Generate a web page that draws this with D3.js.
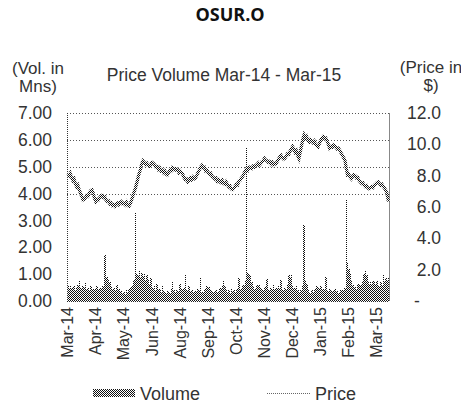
<!DOCTYPE html>
<html>
<head>
<meta charset="utf-8">
<script src="https://cdn.jsdelivr.net/npm/d3@7"></script>
<style>
  body { margin: 0; background: #fff; }
  text { font-family: Arial, "Liberation Sans", sans-serif; fill: #333; }
</style>
</head>
<body>
<script>
// daily closing price ($), Mar-14 .. Mar-15
const price = [
  8.1, 8.0, 8.15, 7.9, 7.7, 7.8, 7.5, 7.3, 7.4, 7.1, 6.9, 6.7, 6.45,
  6.5, 6.6, 6.75, 6.7, 6.9, 7.05, 7.1, 6.9, 6.55, 6.35,
  6.5, 6.45, 6.6, 6.7, 6.75, 6.6, 6.65, 6.45, 6.35,
  6.4, 6.2, 6.25, 6.1, 6.15, 6.05, 6.2, 6.25, 6.15, 6.3, 6.35, 6.2,
  6.25, 6.15, 6.3, 6.1, 6.05, 6.2, 6.45, 6.7, 6.95,
  7.2, 7.5, 7.85, 8.15, 8.4, 8.75, 8.95,
  8.85, 8.7, 8.8, 8.65, 8.6, 8.7, 8.85, 8.8, 8.7,
  8.55, 8.6, 8.4, 8.5, 8.3, 8.35, 8.2, 8.3, 8.1, 8.05,
  8.2, 8.35, 8.3, 8.5, 8.4, 8.45, 8.35, 8.4, 8.2, 8.3, 8.2, 8.1,
  7.9, 7.75, 7.8, 7.6, 7.7, 7.85, 7.75, 7.9, 7.8, 7.85,
  8.0, 8.2, 8.35, 8.55, 8.65, 8.5, 8.55, 8.3, 8.35,
  8.2, 8.1, 8.15, 7.95, 7.9, 7.8, 7.85, 7.65, 7.75, 7.6, 7.55,
  7.7, 7.5, 7.45, 7.6, 7.45, 7.3, 7.35, 7.15, 7.1, 7.2,
  7.3, 7.45, 7.4, 7.65, 7.7, 7.85, 7.95, 8.15, 8.3, 8.45,
  8.35, 8.55, 8.5, 8.45, 8.6, 8.55, 8.65, 8.7, 8.8,
  8.65, 8.75, 8.9, 8.95, 9.1, 9.0, 8.95, 8.85, 8.9,
  8.75, 8.85, 8.7, 8.8, 8.75, 8.9, 9.05, 9.2, 9.3, 9.15, 9.05, 9.1,
  9.25, 9.4, 9.35, 9.55, 9.7, 9.85, 9.7, 9.5, 9.6, 9.3, 9.1,
  9.5, 9.9, 10.3, 10.6, 10.4, 10.5, 10.25, 10.15, 10.3, 10.2, 10.1, 10.2,
  10.0, 9.95, 9.85, 10.05, 10.25, 10.4, 10.5, 10.35, 10.4, 10.25, 10.0, 9.75,
  9.85, 9.8, 9.95, 9.9, 9.8, 9.7, 9.75, 9.6, 9.45, 9.3, 9.15, 9.0, 8.5, 8.05,
  8.1, 7.9, 7.8, 7.95, 8.05, 8.0, 7.85, 7.9, 7.7, 7.6, 7.5,
  7.55, 7.4, 7.3, 7.35, 7.2, 7.15, 7.25, 7.3, 7.25,
  7.4, 7.45, 7.55, 7.6, 7.5, 7.4, 7.45, 7.3, 7.2, 7.05, 6.85, 6.35
];

// daily volume (mns)
const volume = [
  0.55, 0.5, 0.6, 0.45, 0.5, 0.55, 0.4, 0.5, 0.6, 0.75,
  0.5, 0.45, 0.55, 0.5, 0.72, 0.45, 0.5, 0.4, 0.55, 0.45,
  0.5, 0.4, 0.45, 0.55, 0.4, 0.5, 0.45, 0.6, 0.55, 1.71,
  0.85, 0.9, 0.8, 0.7, 0.55, 0.45, 0.5, 0.4, 0.55, 0.6,
  0.45, 0.35, 0.4, 0.3, 0.35, 0.25, 0.4, 0.35, 0.45, 0.5,
  0.55, 0.6, 0.8, 3.28, 1.0, 0.95, 1.1, 0.85, 1.05, 0.9,
  1.0, 0.75, 0.95, 0.8, 0.6, 0.85, 0.5, 0.45, 0.55, 0.4,
  0.65, 0.4, 0.45, 0.35, 0.6, 0.4, 0.35, 0.3, 0.4, 0.35,
  0.3, 0.45, 0.7, 0.4, 0.35, 0.45, 0.4, 0.35, 0.65, 0.45,
  0.4, 0.5, 1.0, 0.45, 0.4, 0.55, 0.35, 0.4, 0.3, 0.35,
  0.4, 0.35, 0.45, 0.4, 0.85, 0.35, 0.3, 0.4, 0.45, 0.55,
  0.5, 0.55, 0.4, 0.35, 0.3, 0.35, 0.4, 0.3, 0.35, 0.45,
  0.5, 0.6, 0.8, 0.55, 0.4, 0.35, 0.4, 0.3, 0.45, 0.35,
  0.4, 0.35, 0.45, 0.5, 0.85, 0.4, 0.5, 0.55, 0.6, 0.75,
  5.74, 1.05, 1.0, 0.95, 0.7, 0.55, 0.45, 0.5, 0.6, 0.55,
  0.6, 0.5, 0.45, 0.4, 0.5, 0.55, 0.82, 0.45, 0.4, 0.5,
  0.45, 0.65, 0.4, 0.5, 0.45, 0.55, 0.5, 0.78, 0.45, 0.4,
  0.5, 0.45, 0.6, 0.95, 0.9, 0.95, 0.55, 0.5, 0.45, 0.55,
  0.4, 0.35, 0.45, 0.4, 0.6, 2.83, 0.8, 0.65, 0.45, 0.35,
  0.3, 0.4, 0.35, 0.4, 0.45, 0.55, 0.5, 0.45, 0.55, 0.4,
  0.5, 0.45, 0.9, 0.4, 0.35, 0.45, 0.4, 0.35, 0.4, 0.45,
  0.35, 0.4, 0.3, 0.35, 0.4, 0.45, 0.4, 0.5, 3.79, 1.4,
  1.2, 1.05, 0.8, 0.6, 0.5, 0.55, 0.45, 0.6, 0.65, 0.55,
  0.6, 0.7, 1.0, 1.1, 0.95, 0.7, 0.65, 0.7, 0.6, 0.75,
  0.7, 0.65, 0.75, 0.6, 0.55, 0.7, 0.6, 0.95, 0.75, 0.85,
  0.8, 0.9
];

// category labels shown every 22 trading days
const tickLabels = ['Mar-14', 'Apr-14', 'May-14', 'Jun-14', 'Aug-14', 'Sep-14',
                    'Oct-14', 'Nov-14', 'Dec-14', 'Jan-15', 'Feb-15', 'Mar-15'];
const tickStep = 22;
const volTicks = [0, 1, 2, 3, 4, 5, 6, 7];
const gridTicks = [4, 5, 6, 7];
const priceTicks = [0, 2, 4, 6, 8, 10, 12];

const width = 461, height = 406;
const plotL = 67, plotR = 389, plotT = 113, plotB = 301;
const font = 'Arial, "Liberation Sans", sans-serif';

const svg = d3.select('body').append('svg')
    .attr('width', width).attr('height', height);

// checker pattern used for the bars and the price line
const defs = svg.append('defs');
const pat = defs.append('pattern')
    .attr('id', 'chk').attr('width', 2).attr('height', 2)
    .attr('patternUnits', 'userSpaceOnUse');
pat.append('rect').attr('width', 2).attr('height', 2).attr('fill', '#fff');
pat.append('rect').attr('x', 0).attr('y', 0).attr('width', 1).attr('height', 1).attr('fill', '#111');
pat.append('rect').attr('x', 1).attr('y', 1).attr('width', 1).attr('height', 1).attr('fill', '#111');

const x = d3.scaleBand()
    .domain(d3.range(volume.length))
    .range([plotL, plotR])
    .padding(0);
const yVol = d3.scaleLinear().domain([0, 7]).range([plotB, plotT]);
const yPrice = d3.scaleLinear().domain([0, 12]).range([plotB, plotT]);

// title
svg.append('text')
    .attr('x', 230).attr('y', 21)
    .attr('text-anchor', 'middle')
    .style('font-family', '"Open Sans", sans-serif')
    .style('font-weight', 'bold').style('font-size', '18px')
    .style('fill', '#111')
    .text('OSUR.O');

svg.append('text')
    .attr('x', 224).attr('y', 81)
    .attr('text-anchor', 'middle')
    .style('font-size', '17.5px')
    .text('Price Volume Mar-14 - Mar-15');

svg.append('text').attr('x', 38).attr('y', 74).attr('text-anchor', 'middle')
    .style('font-size', '17px').text('(Vol. in');
svg.append('text').attr('x', 38).attr('y', 92).attr('text-anchor', 'middle')
    .style('font-size', '17px').text('Mns)');
svg.append('text').attr('x', 431).attr('y', 73).attr('text-anchor', 'middle')
    .style('font-size', '17px').text('(Price in');
svg.append('text').attr('x', 431).attr('y', 91).attr('text-anchor', 'middle')
    .style('font-size', '17px').text('$)');

// gridlines
svg.append('g').selectAll('line')
    .data(gridTicks)
    .join('line')
    .attr('x1', plotL).attr('x2', plotR)
    .attr('y1', d => Math.round(yVol(d)) + 0.5)
    .attr('y2', d => Math.round(yVol(d)) + 0.5)
    .attr('stroke', '#555')
    .attr('stroke-dasharray', '1,2');

// right border
svg.append('line')
    .attr('x1', plotR + 0.5).attr('x2', plotR + 0.5)
    .attr('y1', plotT).attr('y2', plotB)
    .attr('stroke', '#888');

// volume bars
svg.append('g').selectAll('rect')
    .data(volume)
    .join('rect')
    .attr('x', (d, i) => x(i))
    .attr('y', d => yVol(d))
    .attr('width', x.bandwidth() + 0.3)
    .attr('height', d => plotB - yVol(d))
    .attr('fill', 'url(#chk)')
    .attr('shape-rendering', 'crispEdges');

// price line
const line = d3.line()
    .x((d, i) => x(i) + x.bandwidth() / 2)
    .y(d => yPrice(d));
svg.append('path')
    .datum(price)
    .attr('d', line)
    .attr('fill', 'none')
    .attr('stroke', 'url(#chk)')
    .attr('stroke-width', 3.2);

// left and bottom axis lines (dotted)
svg.append('line')
    .attr('x1', plotL + 0.5).attr('x2', plotL + 0.5)
    .attr('y1', plotT).attr('y2', plotB)
    .attr('stroke', '#333').attr('stroke-dasharray', '1,1');
svg.append('line')
    .attr('x1', plotL).attr('x2', plotR)
    .attr('y1', plotB + 0.5).attr('y2', plotB + 0.5)
    .attr('stroke', '#222').attr('stroke-dasharray', '1,1');

// left axis
const gl = svg.append('g')
    .attr('transform', `translate(${plotL},0)`)
    .call(d3.axisLeft(yVol).tickValues(volTicks).tickSize(0).tickPadding(15)
        .tickFormat(d3.format('.2f')));
gl.select('.domain').remove();
gl.selectAll('text')
    .style('font-size', '17.5px').style('font-family', font)
    .attr('fill', '#333');

// right axis
const gr = svg.append('g')
    .attr('transform', `translate(${plotR},0)`)
    .call(d3.axisRight(yPrice).tickValues(priceTicks).tickSize(0)
        .tickFormat(d => d === 0 ? '-' : d3.format('.1f')(d)));
gr.select('.domain').remove();
gr.selectAll('text')
    .attr('text-anchor', d => d === 0 ? 'start' : 'end')
    .attr('x', d => d === 0 ? 25 : 52)
    .style('font-size', '17.5px').style('font-family', font)
    .attr('fill', '#333');

// bottom axis - rotated category labels
const tickIdx = tickLabels.map((t, k) => k * tickStep);
const gb = svg.append('g')
    .attr('transform', `translate(0,${plotB})`)
    .call(d3.axisBottom(x).tickValues(tickIdx).tickSize(0)
        .tickFormat((d, k) => tickLabels[k]));
gb.select('.domain').remove();
gb.selectAll('text')
    .attr('transform', 'rotate(-90)')
    .attr('x', -6).attr('y', 0).attr('dy', '0.35em')
    .attr('text-anchor', 'end')
    .style('font-size', '16px').style('font-family', font)
    .attr('fill', '#333');

// legend
const lg = svg.append('g');
lg.append('rect')
    .attr('x', 93).attr('y', 389).attr('width', 42).attr('height', 8)
    .attr('fill', 'url(#chk)');
lg.append('text').attr('x', 140).attr('y', 400)
    .style('font-size', '18px').text('Volume');
lg.append('line')
    .attr('x1', 267).attr('x2', 311).attr('y1', 393.5).attr('y2', 393.5)
    .attr('stroke', '#666').attr('stroke-dasharray', '1,1');
lg.append('text').attr('x', 315).attr('y', 400)
    .style('font-size', '18px').text('Price');
</script>
</body>
</html>
